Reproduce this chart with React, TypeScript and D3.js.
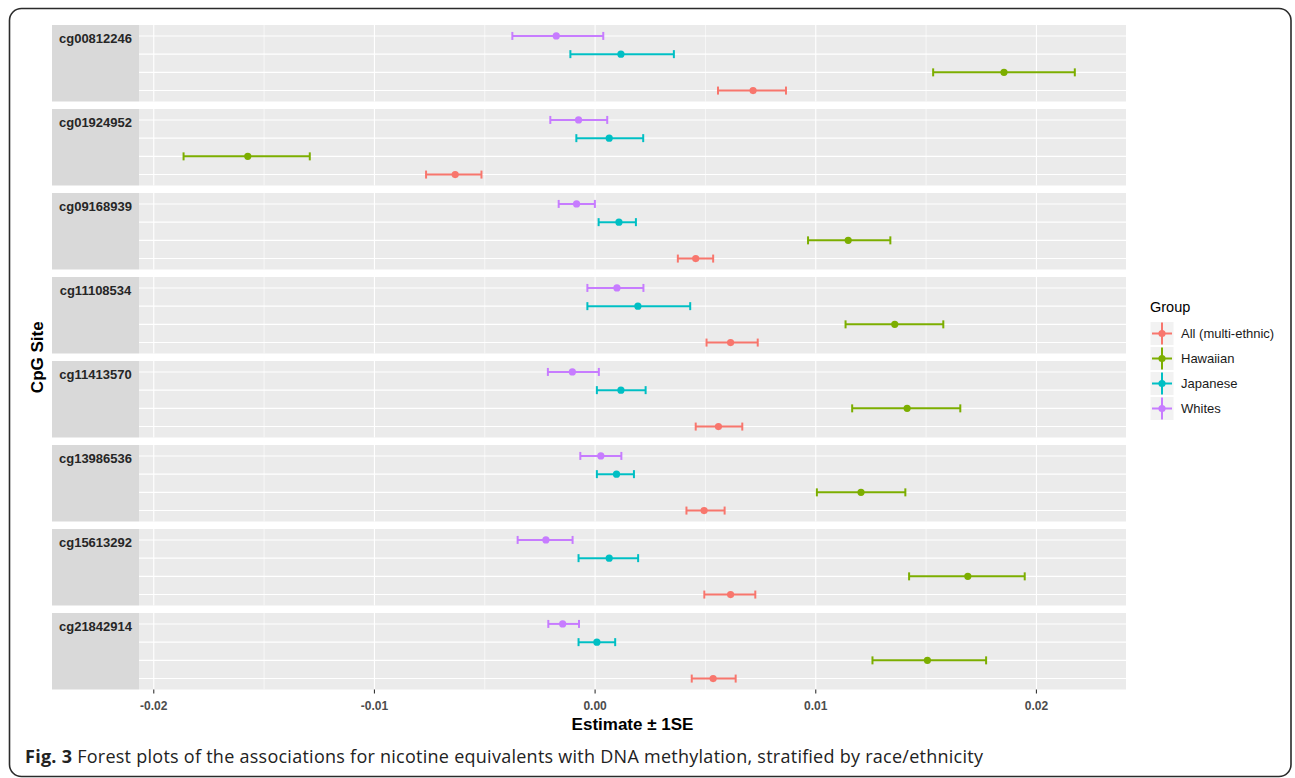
import React from 'react'
import * as d3 from 'd3'

// CpG sites (one facet each, top to bottom)
const sites = ['cg00812246', 'cg01924952', 'cg09168939', 'cg11108534', 'cg11413570', 'cg13986536', 'cg15613292', 'cg21842914']

const groups = ['All (multi-ethnic)', 'Hawaiian', 'Japanese', 'Whites']
const groupColors = ['#F8766D', '#7CAE00', '#00BFC4', '#C77CFF']

// [estimate - 1SE, estimate, estimate + 1SE] per site
const allMultiEthnic = [
  [0.00557, 0.00716, 0.00865],
  [-0.00766, -0.00634, -0.00515],
  [0.00375, 0.00456, 0.00535],
  [0.00505, 0.00614, 0.00737],
  [0.00456, 0.00559, 0.00667],
  [0.00414, 0.00494, 0.00587],
  [0.00495, 0.00614, 0.00726],
  [0.00438, 0.00535, 0.00637],
]
const hawaiian = [
  [0.01532, 0.01853, 0.02174],
  [-0.01865, -0.01574, -0.01293],
  [0.00965, 0.01147, 0.01338],
  [0.01135, 0.01358, 0.01578],
  [0.01165, 0.01414, 0.01655],
  [0.01005, 0.01205, 0.01406],
  [0.01423, 0.01689, 0.01947],
  [0.01257, 0.01506, 0.01772],
]
const japanese = [
  [-0.00112, 0.00117, 0.00357],
  [-0.00085, 0.00064, 0.00218],
  [0.00016, 0.00108, 0.00185],
  [-0.00035, 0.00194, 0.00431],
  [0.00008, 0.00117, 0.00229],
  [0.00008, 0.00097, 0.00176],
  [-0.00075, 0.00064, 0.00195],
  [-0.00075, 0.00008, 0.00091],
]
const whites = [
  [-0.00375, -0.00176, 0.00037],
  [-0.00203, -0.00075, 0.00055],
  [-0.00165, -0.00084, -0.00001],
  [-0.00035, 0.00099, 0.00219],
  [-0.00214, -0.00103, 0.00017],
  [-0.00067, 0.00026, 0.00119],
  [-0.00351, -0.00223, -0.00102],
  [-0.00212, -0.00147, -0.00073],
]
const groupData = [allMultiEthnic, hawaiian, japanese, whites]

const xTicks = [-0.02, -0.01, 0, 0.01, 0.02]
const xTickLabels = ['-0.02', '-0.01', '0.00', '0.01', '0.02']
const xMinorTicks = [-0.015, -0.005, 0.005, 0.015]

const W = 1295
const H = 778
const STRIP_X = 52
const PANEL_X0 = 139
const PANEL_X1 = 1126
const PANEL_TOP = 25
const PANEL_H = 76.5
const PANEL_GAP = 7.5
const FONT = '"Liberation Sans", Arial, sans-serif'

export default function App() {
  const allVals = groupData.flat(2)
  const [lo, hi] = d3.extent(allVals) as [number, number]
  const pad = (hi - lo) * 0.05
  const x = d3.scaleLinear().domain([lo - pad, hi + pad + 0.0003]).range([PANEL_X0, PANEL_X1])

  const facet = d3.scaleBand<string>()
    .domain(sites)
    .range([PANEL_TOP, PANEL_TOP + sites.length * (PANEL_H + PANEL_GAP) - PANEL_GAP])
    .paddingInner(PANEL_GAP / (PANEL_H + PANEL_GAP))
  const row = d3.scalePoint<string>()
    .domain(['Whites', 'Japanese', 'Hawaiian', 'All (multi-ethnic)'])
    .range([0, facet.bandwidth()])
    .padding(0.6)

  const bottom = (facet(sites[sites.length - 1]) as number) + facet.bandwidth()
  const midY = (PANEL_TOP + bottom) / 2

  return (
    <svg width={W} height={H} style={{ position: 'absolute', left: 0, top: 0, background: '#fff' }}>
      <rect x={9.5} y={8.5} width={1281.5} height={768} rx={12} fill="none" stroke="#2b2b2b" strokeWidth={1.6} />

      {sites.map((site, si) => {
        const top = facet(site) as number
        return (
          <g key={site} transform={`translate(0,${top})`}>
            <rect x={STRIP_X} y={0} width={PANEL_X0 - STRIP_X} height={facet.bandwidth()} fill="#D9D9D9" />
            <text x={(STRIP_X + PANEL_X0) / 2} y={18} textAnchor="middle" fontFamily={FONT} fontWeight="bold" fontSize={13} fill="#262626">{site}</text>
            <rect x={PANEL_X0} y={0} width={PANEL_X1 - PANEL_X0} height={facet.bandwidth()} fill="#EBEBEB" />
            {xMinorTicks.map(t => (
              <line key={'m' + t} x1={x(t)} x2={x(t)} y1={0} y2={facet.bandwidth()} stroke="#fff" strokeWidth={0.6} />
            ))}
            {xTicks.map(t => (
              <line key={'M' + t} x1={x(t)} x2={x(t)} y1={0} y2={facet.bandwidth()} stroke="#fff" strokeWidth={1.1} />
            ))}
            {row.domain().map(g => (
              <line key={'h' + g} x1={PANEL_X0} x2={PANEL_X1} y1={row(g)} y2={row(g)} stroke="#fff" strokeWidth={1.1} />
            ))}
            {groups.map((g, gi) => {
              const [l, e, h] = groupData[gi][si]
              const y = row(g) as number
              const c = groupColors[gi]
              return (
                <g key={g}>
                  <line x1={x(l)} x2={x(h)} y1={y} y2={y} stroke={c} strokeWidth={2} />
                  <line x1={x(l)} x2={x(l)} y1={y - 4} y2={y + 4} stroke={c} strokeWidth={2} />
                  <line x1={x(h)} x2={x(h)} y1={y - 4} y2={y + 4} stroke={c} strokeWidth={2} />
                  <circle cx={x(e)} cy={y} r={3.6} fill={c} />
                </g>
              )
            })}
          </g>
        )
      })}

      {xTicks.map((t, i) => (
        <g key={t}>
          <line x1={x(t)} x2={x(t)} y1={bottom} y2={bottom + 4} stroke="#333" strokeWidth={1.1} />
          <text x={x(t)} y={bottom + 20} textAnchor="middle" fontFamily={FONT} fontWeight="bold" fontSize={12} fill="#4D4D4D">{xTickLabels[i]}</text>
        </g>
      ))}
      <text x={(PANEL_X0 + PANEL_X1) / 2} y={730} textAnchor="middle" fontFamily={FONT} fontWeight="bold" fontSize={17} fill="#000">Estimate ± 1SE</text>
      <text transform={`translate(43,${midY}) rotate(-90)`} textAnchor="middle" fontFamily={FONT} fontWeight="bold" fontSize={17} fill="#000">CpG Site</text>

      <g transform="translate(1150,0)">
        <text x={0} y={312} fontFamily={FONT} fontSize={14.5} fill="#000">Group</text>
        {groups.map((g, gi) => {
          const cy = 333.5 + gi * 25
          const c = groupColors[gi]
          return (
            <g key={g}>
              <rect x={0} y={cy - 12} width={24} height={24} fill="#F2F2F2" stroke="#fff" strokeWidth={1} />
              <line x1={2} x2={22} y1={cy} y2={cy} stroke={c} strokeWidth={2} />
              <line x1={12} x2={12} y1={cy - 11} y2={cy + 11} stroke={c} strokeWidth={2} />
              <circle cx={12} cy={cy} r={3.6} fill={c} />
              <text x={31} y={cy + 4.5} fontFamily={FONT} fontSize={13} fill="#1A1A1A">{g}</text>
            </g>
          )
        })}
      </g>

      <text x={25} y={763} fontFamily='"Open Sans", sans-serif' fontSize={18} fill="#222" textLength={958} lengthAdjust="spacing">
        <tspan fontWeight="bold">Fig. 3</tspan>
        <tspan> Forest plots of the associations for nicotine equivalents with DNA methylation, stratified by race/ethnicity</tspan>
      </text>
    </svg>
  )
}
